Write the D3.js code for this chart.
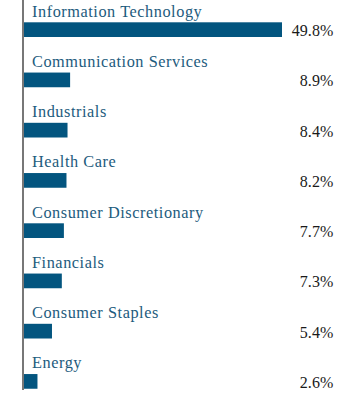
<!DOCTYPE html>
<html><head><meta charset="utf-8">
<script src="https://cdn.jsdelivr.net/npm/d3@7"></script>
<style>html,body{margin:0;padding:0;background:#fff;}svg{display:block;}</style>
</head><body>
<svg id="c" width="360" height="396"></svg>
<script>
const categories = ["Information Technology","Communication Services","Industrials","Health Care","Consumer Discretionary","Financials","Consumer Staples","Energy"];
const values = [49.8, 8.9, 8.4, 8.2, 7.7, 7.3, 5.4, 2.6];
const valueLabels = ["49.8%","8.9%","8.4%","8.2%","7.7%","7.3%","5.4%","2.6%"];

const svg = d3.select("#c");
const x0 = 24;
const x = d3.scaleLinear().domain([0, 49.8]).range([x0, 282]);
const y = d3.scaleBand().domain(categories).range([0, 402]).paddingInner(0);
const font = '"Liberation Serif", "DejaVu Serif", serif';

const rows = svg.append("g").selectAll("g.row").data(categories).join("g").attr("class","row")
  .attr("transform", d => `translate(0,${y(d)})`);

rows.append("rect")
  .attr("x", x(0)).attr("y", 22.3)
  .attr("width", (d,i) => x(values[i]) - x(0)).attr("height", 14.7)
  .attr("fill", "#03557f");

rows.append("text")
  .attr("x", 32).attr("y", 16.7)
  .style("font-family", font).style("font-size", "16.3px")
  .style("letter-spacing", "0.55px")
  .attr("fill", "#1d5b7d")
  .text(d => d);

rows.append("text")
  .attr("x", 333.5).attr("y", 36)
  .attr("text-anchor", "end")
  .style("font-family", font).style("font-size", "16px")
  .style("letter-spacing", "0.1px")
  .attr("fill", "#1a1a1a")
  .text((d,i) => valueLabels[i]);

svg.append("line")
  .attr("x1", 23).attr("x2", 23).attr("y1", 0).attr("y2", 390)
  .attr("stroke", "#555").attr("stroke-width", 1.6);
</script>
</body></html>
